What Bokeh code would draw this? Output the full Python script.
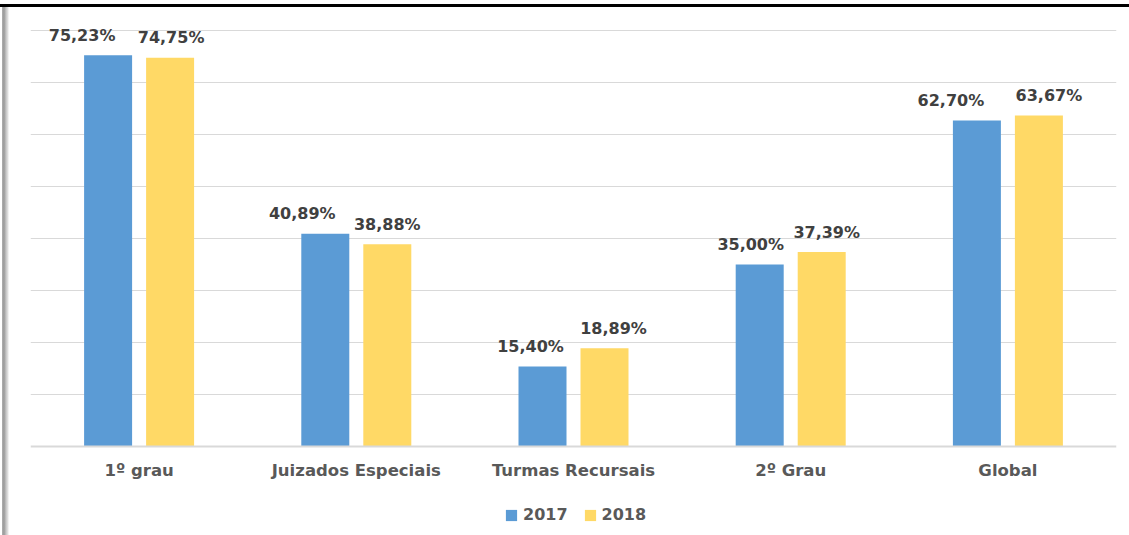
from bokeh.plotting import figure
from bokeh.models import FactorRange, Range1d, FixedTicker, ColumnDataSource, Legend, LegendItem, Span, Div
from bokeh.layouts import column, row
from bokeh.transform import dodge
from bokeh.core.properties import value
from bokeh.embed import file_html
from bokeh.resources import INLINE

categories = ["1º grau", "Juizados Especiais", "Turmas Recursais", "2º Grau", "Global"]
values_2017 = [75.23, 40.89, 15.40, 35.00, 62.70]
values_2018 = [74.75, 38.88, 18.89, 37.39, 63.67]
labels_2017 = ["75,23%", "40,89%", "15,40%", "35,00%", "62,70%"]
labels_2018 = ["74,75%", "38,88%", "18,89%", "37,39%", "63,67%"]
series_names = ["2017", "2018"]

# label horizontal nudges (screen px) - styling only
nudge_2017 = [-26, -23, -12, -9, -26]
nudge_2018 = [1, 0, 9, 5, 10]

BLUE = "#5B9BD5"
YELLOW = "#FFD966"
FONT = "DejaVu Sans"
PX_PER_UNIT = 5.2

src = ColumnDataSource(dict(cat=categories, v17=values_2017, v18=values_2018,
                            l17=labels_2017, l18=labels_2018,
                            n17=nudge_2017, n18=nudge_2018,
                            zero=[0] * len(categories)))

FIG_W, FIG_H = 1120, 528
p = figure(x_range=FactorRange(factors=categories),
           y_range=Range1d(-89 / PX_PER_UNIT, 439 / PX_PER_UNIT),
           width=FIG_W, height=FIG_H, output_backend="svg", toolbar_location=None,
           min_border_left=21, min_border_right=13, min_border_top=0, min_border_bottom=0)
p.outline_line_color = None
p.background_fill_color = "white"
p.border_fill_color = "white"
p.xaxis.visible = False
p.yaxis.visible = False

off = 31 / 217.2
bw = 48 / 217.2
r17 = p.vbar(x=dodge("cat", -off, range=p.x_range), top="v17", width=bw, source=src,
             fill_color=BLUE, line_color=None)
r18 = p.vbar(x=dodge("cat", off, range=p.x_range), top="v18", width=bw, source=src,
             fill_color=YELLOW, line_color=None)

common = dict(text_font=value(FONT), text_font_style="bold", text_font_size="16px",
              text_color="#404040", text_align="center", text_baseline="middle", y_offset=-20)
p.text(x=dodge("cat", -off, range=p.x_range), y="v17", text="l17", x_offset="n17", source=src, **common)
p.text(x=dodge("cat", off, range=p.x_range), y="v18", text="l18", x_offset="n18", source=src, **common)

# category labels under the baseline
p.text(x="cat", y="zero", text="cat", source=src, y_offset=24,
       text_font=value(FONT), text_font_style="bold", text_font_size="16.5px",
       text_color="#595959", text_align="center", text_baseline="middle")

p.ygrid.ticker = FixedTicker(ticks=[10, 20, 30, 40, 50, 60, 70, 80])
p.ygrid.grid_line_color = "#D9D9D9"
p.ygrid.grid_line_width = 1
p.xgrid.grid_line_color = None
p.add_layout(Span(location=0, dimension="width", line_color="#D9D9D9", line_width=2))

legend = Legend(items=[LegendItem(label=series_names[0], renderers=[r17]),
                       LegendItem(label=series_names[1], renderers=[r18])],
                orientation="horizontal", location=(474, 11),
                glyph_width=14, glyph_height=14, label_standoff=5, spacing=15,
                label_height=16,
                padding=0, margin=0, border_line_color=None, background_fill_alpha=0,
                label_text_font=FONT, label_text_font_style="bold",
                label_text_font_size="16px", label_text_color="#595959")
p.add_layout(legend)

top_line = Div(width=1129, height=7, margin=0, styles={
    "background": "linear-gradient(to bottom, #ffffff 0px, #ffffff 4px, #000000 4px, #000000 7px)"})
left_line = Div(width=9, height=FIG_H, margin=0, styles={
    "background": "linear-gradient(to right, #ffffff 0px, #ffffff 2px, #b0b0b0 2px, #9a9a9a 4px, #c4c4c4 6px, #e4e4e4 8px, #ffffff 9px)"})
layout = column(top_line, row(left_line, p, spacing=0), spacing=0)

open("out.html", "w").write(file_html(layout, INLINE))
